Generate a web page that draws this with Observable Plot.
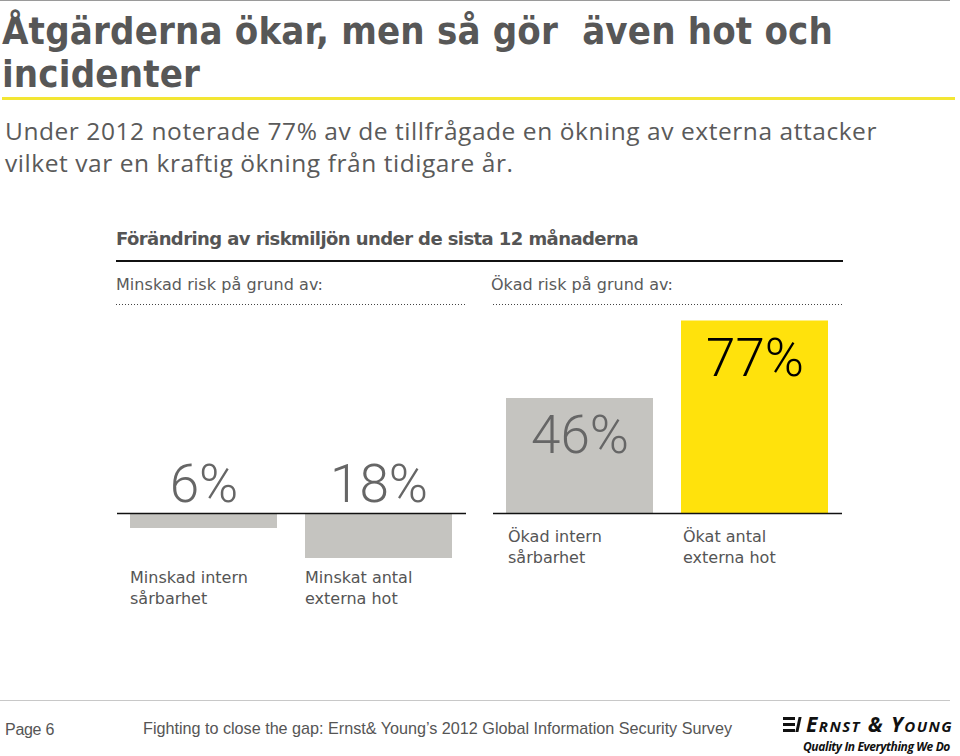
<!DOCTYPE html>
<html>
<head>
<meta charset="utf-8">
<script src="https://cdn.jsdelivr.net/npm/d3@7"></script>
<script src="https://cdn.jsdelivr.net/npm/@observablehq/plot@0.6"></script>
<style>
  html, body { margin: 0; padding: 0; background: #fff; }
  body { width: 960px; height: 756px; position: relative; overflow: hidden; font-family: "DejaVu Sans", sans-serif; }
  .abs { position: absolute; white-space: nowrap; }
  #topline { left: 0; top: 0; width: 950px; height: 1px; background: #9a9a9a; }
  .title { left: 2px; font-family: "DejaVu Sans Condensed", "DejaVu Sans", sans-serif; font-size: 38px; line-height: 43px; font-weight: 700; color: #575757; }
  #yellow { left: 2px; top: 97px; width: 953px; height: 3px; background: #f3e633; }
  .sub { left: 5px; font-family: "Open Sans", sans-serif; font-size: 24.5px; line-height: 32px; font-weight: 400; color: #5a5a5a; }
  #ctitle { left: 116px; top: 230px; font-size: 18px; line-height: 18px; font-weight: 700; color: #555; }
  #blackline { left: 116px; top: 260px; width: 727px; height: 2px; background: #111; }
  .phead { top: 276.5px; font-size: 16px; line-height: 16px; color: #5a5a5a; }
  .dots { top: 304px; height: 1px; width: 350px;
    background: repeating-linear-gradient(to right, #444 0 1px, transparent 1px 3px); }
  #chart { left: 0; top: 300px; }
  #footline { left: 0; top: 700px; width: 950px; height: 1px; background: #c8c8c8; }
  .foot { font-family: "Liberation Sans", Arial, sans-serif; color: #555; }
  #page { left: 5px; top: 721.5px; font-size: 16px; line-height: 16px; }
  #source { left: 143px; top: 719.5px; font-size: 16.2px; line-height: 16.2px; }
  #logo { left: 806px; top: 714px; font-family: "Open Sans", sans-serif; font-style: italic; font-weight: 700; font-variant: small-caps; font-size: 21px; line-height: 21px; color: #111; }
  #tag { left: 803px; top: 740.5px; font-family: "Open Sans", sans-serif; font-style: italic; font-weight: 700; font-size: 12px; line-height: 12px; color: #111; }
  .ico { position: absolute; background: #111; }
</style>
</head>
<body>
<div class="abs" id="topline"></div>
<div class="abs title" id="t1" style="top:10px">Åtgärderna ökar, men så gör&nbsp; även hot och</div>
<div class="abs title" id="t2" style="top:53px">incidenter</div>
<div class="abs" id="yellow"></div>
<div class="abs sub" id="s1" style="top:114.5px">Under 2012 noterade 77% av de tillfrågade en ökning av externa attacker</div>
<div class="abs sub" id="s2" style="top:146.5px">vilket var en kraftig ökning från tidigare år.</div>
<div class="abs" id="ctitle">Förändring av riskmiljön under de sista 12 månaderna</div>
<div class="abs" id="blackline"></div>
<div class="abs phead" id="h1" style="left:116px">Minskad risk på grund av:</div>
<div class="abs phead" id="h2" style="left:491px">Ökad risk på grund av:</div>
<div class="abs dots" style="left:116px"></div>
<div class="abs dots" style="left:493px"></div>
<div class="abs" id="chart"></div>
<div class="abs" id="footline"></div>
<div class="abs foot" id="page">Page 6</div>
<div class="abs foot" id="source">Fighting to close the gap: Ernst&amp; Young’s 2012 Global Information Security Survey</div>
<div class="ico" style="left:783px;top:717px;width:12px;height:3px"></div>
<div class="ico" style="left:783px;top:723px;width:12px;height:3px"></div>
<div class="ico" style="left:783px;top:729px;width:12px;height:3px"></div>
<div class="ico" style="left:797px;top:717px;width:3px;height:15px;transform:skewX(-12deg)"></div>
<div class="abs" id="logo">Ernst &amp; Young</div>
<div class="abs" id="tag">Quality In Everything We Do</div>
<script>
// ---- data ----
const panels = ["Minskad risk på grund av:", "Ökad risk på grund av:"];
const categories = ["Minskad intern sårbarhet", "Minskat antal externa hot", "Ökad intern sårbarhet", "Ökat antal externa hot"];
const categoryPanel = [0, 0, 1, 1];
const values = [6, 18, 46, 77];
const valueLabels = ["6%", "18%", "46%", "77%"];

// ---- text fitting (letter-spacing so that widths match the reference) ----
function fit(id, target, alsoIds = []) {
  const el = document.getElementById(id);
  el.style.letterSpacing = "0px";
  const w = el.getBoundingClientRect().width;
  const n = [...el.textContent].length;
  const ls = (target - w) / n;
  el.style.letterSpacing = ls + "px";
  alsoIds.forEach(o => document.getElementById(o).style.letterSpacing = ls + "px");
}
fit("t1", 831, ["t2"]);
fit("s1", 872, ["s2"]);
fit("ctitle", 522);
fit("h1", 207);
fit("h2", 182);
fit("page", 49);
fit("source", 589);
fit("logo", 147);
fit("tag", 147);

// ---- derived table ----
const maxValue = d3.max(values);
const wrap = s => { const w = s.split(" "); return w.slice(0, 2).join(" ") + "\n" + w.slice(2).join(" "); };
const rows = categories.map((c, i) => {
  const p = categoryPanel[i];
  const slot = String(categoryPanel.slice(0, i).filter(q => q === p).length);
  return {
    panel: panels[p],
    decrease: p === 0,
    slot,
    name: wrap(c),
    value: values[i],
    signed: p === 0 ? -values[i] : values[i],
    label: valueLabels[i],
    top: values[i] === maxValue
  };
});
const down = rows.filter(d => d.decrease);
const up = rows.filter(d => !d.decrease);

const GRAY = "#c5c4c0", YELLOW = "#ffe20c";

const chart = Plot.plot({
  width: 960,
  height: 320,
  marginLeft: 116,
  marginRight: 117,
  marginTop: 13,
  marginBottom: 7,
  fx: { domain: panels, padding: 0.0716, axis: null, label: null },
  x: { domain: ["0", "1"], paddingInner: 0.159, paddingOuter: 0.074, axis: null, label: null },
  y: { domain: [-40, 80], axis: null, label: null },
  color: { type: "identity" },
  style: { fontFamily: "'DejaVu Sans', sans-serif", background: "transparent", overflow: "visible" },
  marks: [
    Plot.barY(rows, { fx: "panel", x: "slot", y: "signed", fill: d => d.top ? YELLOW : GRAY }),
    Plot.ruleY([0], { stroke: "#111", strokeWidth: 1.3 }),
    // values above baseline for the decrease panel
    Plot.text(down, { fx: "panel", x: "slot", y: 0, text: "label", dy: -12, lineAnchor: "bottom",
      fontFamily: "Roboto, sans-serif", fontSize: 53, fontWeight: 300, fill: "#666" }),
    // values inside bars for the increase panel
    Plot.text(up, { fx: "panel", x: "slot", y: "signed", text: "label", dy: 17, lineAnchor: "top",
      fontFamily: "Roboto, sans-serif", fontSize: 53, fontWeight: 300, fill: d => d.top ? "#000" : "#666" }),
    // category labels
    Plot.text(down, { fx: "panel", x: "slot", y: 0, text: "name", dx: -74, dy: 55, textAnchor: "start",
      lineAnchor: "top", lineHeight: 1.31, fontSize: 16, fill: "#555" }),
    Plot.text(up, { fx: "panel", x: "slot", y: 0, text: "name", dx: -72, dy: 14, textAnchor: "start",
      lineAnchor: "top", lineHeight: 1.31, fontSize: 16, fill: "#555" })
  ]
});
document.getElementById("chart").appendChild(chart);
</script>
</body>
</html>
